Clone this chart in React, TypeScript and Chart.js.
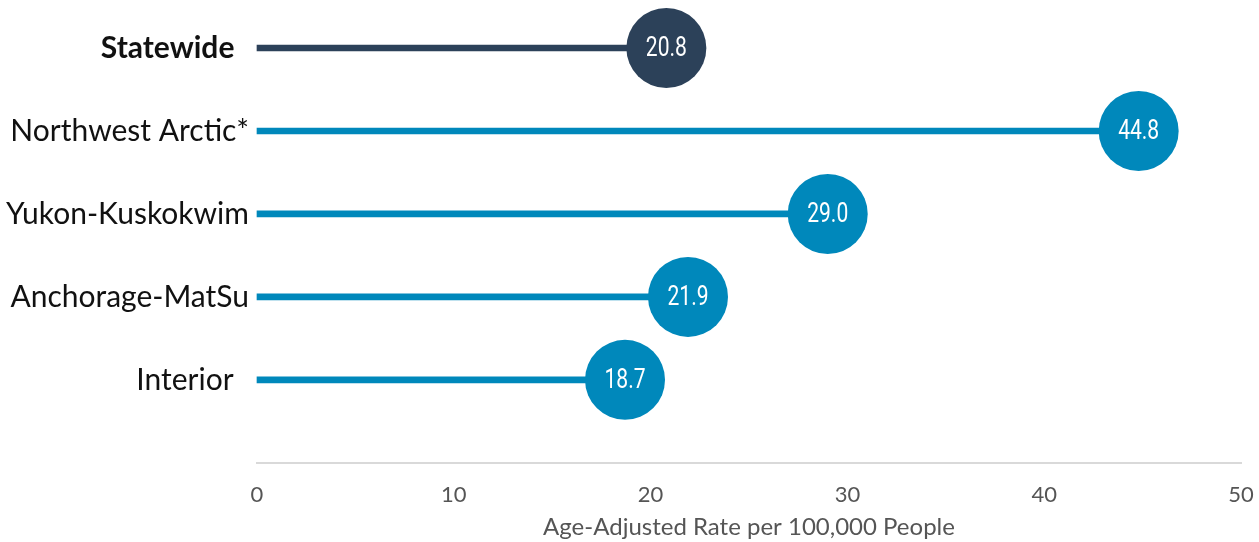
import React, { useEffect, useRef } from "react";
import { Chart, registerables } from "chart.js";

Chart.register(...registerables);

const categories = ["Statewide", "Northwest Arctic*", "Yukon-Kuskokwim", "Anchorage-MatSu", "Interior", ""];
const rates = [20.8, 44.8, 29.0, 21.9, 18.7];
const rateLabels = ["20.8", "44.8", "29.0", "21.9", "18.7"];
const xTicks = [0, 10, 20, 30, 40, 50];
const axisTitle = "Age-Adjusted Rate per 100,000 People";

const NAVY = "#2c4159";
const BLUE = "#0088bb";
const markColors = rates.map((_, i) => (i === 0 ? NAVY : BLUE));

const LABEL_FONT = "Lato, 'Open Sans', sans-serif";
const NUM_FONT = "Roboto, 'Open Sans', sans-serif";

const valueLabelPlugin = {
  id: "valueLabels",
  afterDatasetsDraw(chart: any) {
    const meta = chart.getDatasetMeta(1);
    const ctx = chart.ctx;
    meta.data.forEach((pt: any, i: number) => {
      ctx.save();
      ctx.translate(pt.x, pt.y + 1);
      ctx.scale(0.78, 1);
      ctx.fillStyle = "#ffffff";
      ctx.font = `400 27px ${NUM_FONT}`;
      ctx.textAlign = "center";
      ctx.textBaseline = "middle";
      ctx.fillText(rateLabels[i], 0, 0);
      ctx.restore();
    });
  },
};

export default function App() {
  const ref = useRef<HTMLCanvasElement | null>(null);
  useEffect(() => {
    if (!ref.current) return;
    const chart = new Chart(ref.current, {
      type: "bar",
      data: {
        labels: categories,
        datasets: [
          {
            type: "bar",
            data: rates,
            backgroundColor: markColors,
            barThickness: 6,
            clip: false,
            order: 1,
          } as any,
          {
            type: "line",
            indexAxis: "y",
            data: rates.map((v, i) => ({ x: v, y: categories[i] })),
            showLine: false,
            pointRadius: 40,
            pointHoverRadius: 40,
            pointBorderWidth: 0,
            pointBackgroundColor: markColors,
            pointBorderColor: markColors,
            clip: false,
            order: 0,
          } as any,
        ],
      },
      options: {
        animation: false,
        responsive: true,
        maintainAspectRatio: false,
        indexAxis: "y",
        layout: { autoPadding: false, padding: { top: 48, right: 18, left: 0, bottom: 0 } },
        plugins: {
          legend: { display: false },
          tooltip: { enabled: false },
        },
        scales: {
          x: {
            type: "linear",
            min: 0,
            max: 50,
            afterBuildTicks: (scale: any) => {
              scale.ticks = xTicks.map((v) => ({ value: v }));
            },
            grid: { display: false, drawTicks: true, tickLength: 15 },
            border: { display: true, color: "#d9d9d9", width: 2 },
            ticks: {
              color: "#555555",
              font: { family: LABEL_FONT, size: 22 },
              padding: 4,
            },
            title: {
              display: true,
              text: axisTitle,
              color: "#555555",
              font: { family: LABEL_FONT, size: 24 },
              padding: { top: 1, bottom: 0 },
            },
          },
          y: {
            type: "category",
            offset: false,
            grid: { display: false, drawTicks: false },
            border: { display: false },
            ticks: {
              color: "#111111",
              padding: 8,
              callback: (_v: any, i: number) => {
                const label = categories[i];
                if (i === 0 || i === 4) return label + "  ";
                return label;
              },
              font: (c: any) => ({
                family: LABEL_FONT,
                size: 30,
                weight: c.index === 0 ? "bold" : "normal",
              }),
            },
            afterFit: (scale: any) => {
              scale.width = 257;
            },
          },
        },
      } as any,
      plugins: [valueLabelPlugin],
    });
    return () => chart.destroy();
  }, []);
  return (
    <div style={{ position: "fixed", left: 0, top: 0, width: 1259, height: 542 }}>
      <canvas ref={ref} />
    </div>
  );
}
